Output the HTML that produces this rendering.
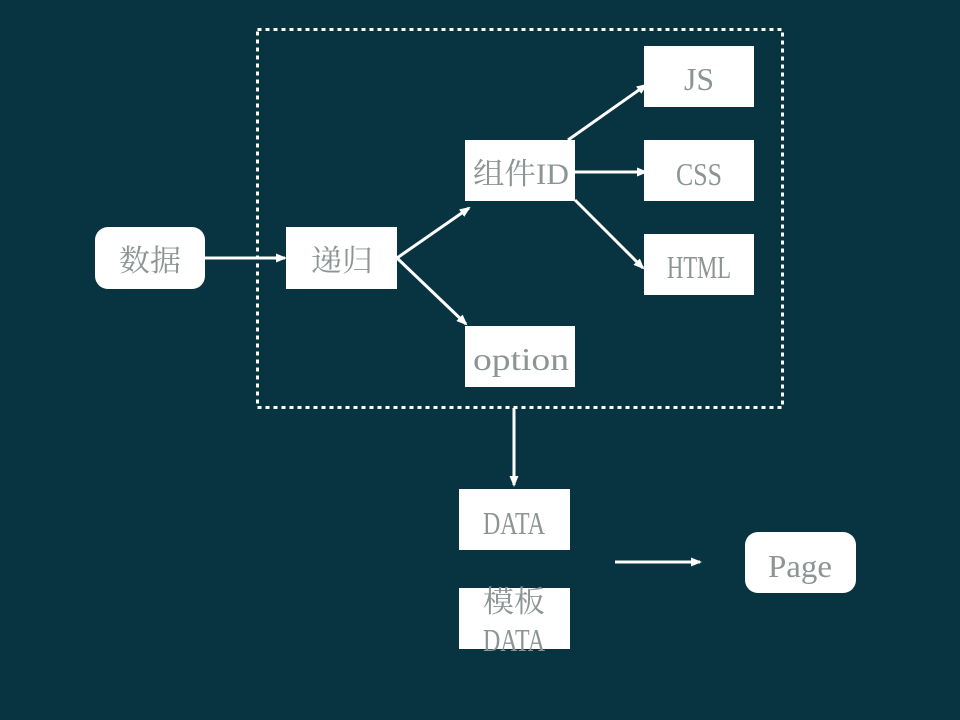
<!DOCTYPE html>
<html><head><meta charset="utf-8"><style>html,body{margin:0;padding:0;background:#083340;}svg{display:block}</style></head>
<body>
<svg width="960" height="720" xmlns="http://www.w3.org/2000/svg">
<defs><marker id="a" markerWidth="12" markerHeight="12" refX="9" refY="6" orient="auto" markerUnits="userSpaceOnUse"><path d="M0,1.5 L11,6 L0,10.5 z" fill="#fff"/></marker></defs>
<rect width="960" height="720" fill="#083340"/>
<rect x="257.5" y="29.5" width="525" height="378" fill="none" stroke="#fff" stroke-width="3" stroke-dasharray="4,4"/>
<g fill="#fff">
<rect x="95" y="227" width="110" height="62" rx="13"/>
<rect x="286" y="227" width="111" height="62"/>
<rect x="465" y="140" width="110" height="61"/>
<rect x="465" y="326" width="110" height="61"/>
<rect x="644" y="46" width="110" height="61"/>
<rect x="644" y="140" width="110" height="61"/>
<rect x="644" y="234" width="110" height="61"/>
<rect x="459" y="489" width="111" height="61"/>
<rect x="459" y="588" width="111" height="61"/>
<rect x="745" y="532" width="111" height="61" rx="13"/>
</g>
<g stroke="#fff" stroke-width="3" marker-end="url(#a)">
<line x1="205" y1="258" x2="285" y2="258"/>
<line x1="397" y1="258" x2="469" y2="208"/>
<line x1="397" y1="258" x2="466" y2="324"/>
<line x1="568" y1="140" x2="646" y2="85"/>
<line x1="575" y1="172" x2="646" y2="172"/>
<line x1="575" y1="200" x2="643" y2="268"/>
<line x1="514" y1="408" x2="514" y2="485"/>
<line x1="615" y1="562" x2="700" y2="562"/>
</g>
<g fill="#8c9494" font-family="'Liberation Serif','Noto Serif CJK SC',serif" font-size="32" text-anchor="middle">
<text x="150" y="271" font-size="30" textLength="62" lengthAdjust="spacingAndGlyphs">数据</text>
<text x="342" y="271" font-size="30" textLength="62" lengthAdjust="spacingAndGlyphs">递归</text>
<text x="521" y="184" font-size="30" textLength="96" lengthAdjust="spacingAndGlyphs">组件ID</text>
<text x="521" y="370" textLength="96" lengthAdjust="spacingAndGlyphs">option</text>
<text x="699" y="90" textLength="30" lengthAdjust="spacingAndGlyphs">JS</text>
<text x="699" y="185" textLength="46" lengthAdjust="spacingAndGlyphs">CSS</text>
<text x="699" y="278" textLength="64" lengthAdjust="spacingAndGlyphs">HTML</text>
<text x="514" y="534" textLength="62" lengthAdjust="spacingAndGlyphs">DATA</text>
<text x="514" y="612" font-size="30" textLength="62" lengthAdjust="spacingAndGlyphs">模板</text>
<text x="514" y="651" textLength="62" lengthAdjust="spacingAndGlyphs">DATA</text>
<text x="800" y="577" textLength="64" lengthAdjust="spacingAndGlyphs">Page</text>
</g>
</svg>
</body></html>
